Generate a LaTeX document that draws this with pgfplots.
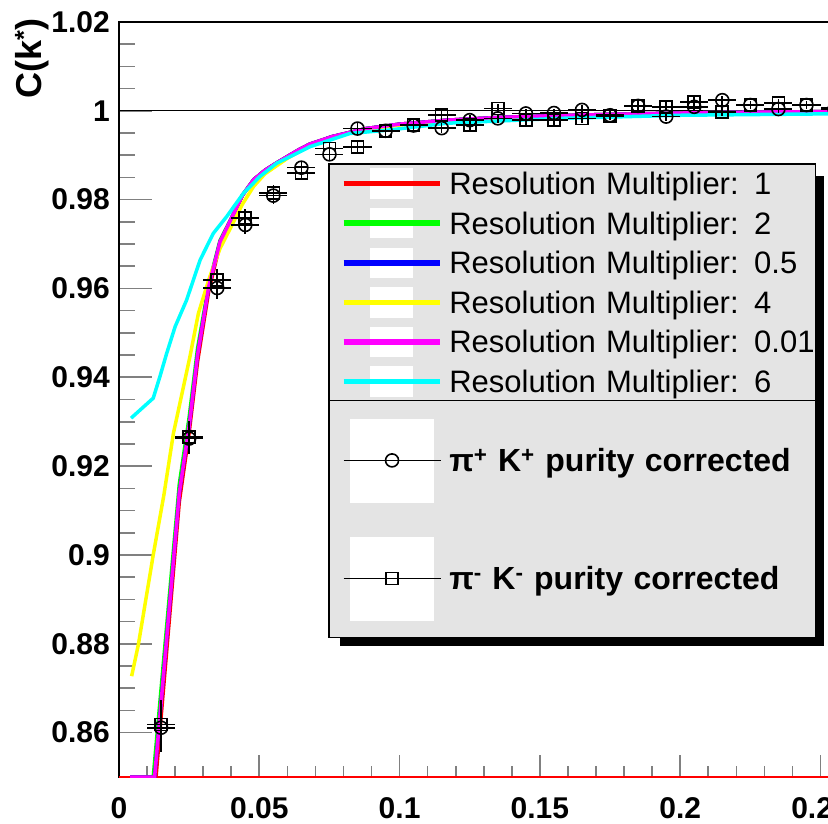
\documentclass[border=0pt]{standalone}
\usepackage{fontspec}
\setmainfont{Liberation Sans}
\usepackage{pgfplots}
\pgfplotsset{compat=1.18}
\usepackage{pgfplotstable}

\definecolor{rootred}{RGB}{255,0,0}
\definecolor{rootgreen}{RGB}{0,255,0}
\definecolor{rootblue}{RGB}{0,0,255}
\definecolor{rootyellow}{RGB}{255,255,0}
\definecolor{rootmagenta}{RGB}{255,0,255}
\definecolor{rootcyan}{RGB}{0,255,255}
\definecolor{legfill}{RGB}{228,228,228}

\newcommand\tickfont{\fontsize{30bp}{30bp}\selectfont\bfseries}
\newcommand\ylabfont{\fontsize{36bp}{36bp}\selectfont\bfseries}
\newcommand\legfont{\fontsize{31bp}{31bp}\selectfont}
\newcommand\legbfont{\fontsize{32bp}{32bp}\selectfont\bfseries}

% pi+ K+ (circles)
\pgfplotstableread{
x      y       ex     ey
0.015  0.8611  0.005  0.0055
0.025  0.9262  0.005  0.0035
0.035  0.9601  0.005  0.0025
0.045  0.9743  0.005  0.0020
0.055  0.9809  0.005  0.0018
0.065  0.9872  0.005  0.0015
0.075  0.9902  0.005  0.0013
0.085  0.9960  0.005  0.0012
0.095  0.9955  0.005  0.0012
0.105  0.9967  0.005  0.0011
0.115  0.9961  0.005  0.0011
0.125  0.9979  0.005  0.0011
0.135  0.9983  0.005  0.0010
0.145  0.9994  0.005  0.0010
0.155  0.9995  0.005  0.0010
0.165  1.0002  0.005  0.0010
0.175  0.9990  0.005  0.0010
0.185  1.0011  0.005  0.0010
0.195  0.9987  0.005  0.0010
0.205  1.0009  0.005  0.0010
0.215  1.0024  0.005  0.0010
0.225  1.0013  0.005  0.0010
0.235  1.0004  0.005  0.0010
0.245  1.0013  0.005  0.0010
0.255  1.0004  0.005  0.0010
}\dataplus

% pi- K- (squares)
\pgfplotstableread{
x      y       ex     ey
0.015  0.8618  0.005  0.0055
0.025  0.9266  0.005  0.0035
0.035  0.9619  0.005  0.0025
0.045  0.9758  0.005  0.0020
0.055  0.9815  0.005  0.0018
0.065  0.9860  0.005  0.0015
0.075  0.9915  0.005  0.0013
0.085  0.9918  0.005  0.0012
0.095  0.9954  0.005  0.0012
0.105  0.9968  0.005  0.0011
0.115  0.9990  0.005  0.0011
0.125  0.9968  0.005  0.0011
0.135  1.0005  0.005  0.0010
0.145  0.9979  0.005  0.0010
0.155  0.9979  0.005  0.0010
0.165  0.9983  0.005  0.0010
0.175  0.9989  0.005  0.0010
0.185  1.0011  0.005  0.0010
0.195  1.0009  0.005  0.0010
0.205  1.0020  0.005  0.0010
0.215  0.9998  0.005  0.0010
0.225  1.0013  0.005  0.0010
0.235  1.0017  0.005  0.0010
0.245  1.0013  0.005  0.0010
0.255  1.0006  0.005  0.0010
}\dataminus

\pgfplotsset{
  reslegend/.style={legend image code/.code={
      \fill[white] (28bp,-13.5bp) rectangle (68bp,13.5bp);
      \draw[line width=5.5bp] (0bp,0bp) -- (96bp,0bp);}},
  datalegend/.style={legend image code/.code={
      \fill[white] (7bp,-42bp) rectangle (90bp,41bp);
      \draw[black,line width=1.3bp] (0bp,0bp) -- (97bp,0bp);
      \path plot[only marks] coordinates {(48.5bp,0bp)};}},
}

\begin{document}
\begin{tikzpicture}
\begin{axis}[
  scale only axis,
  width=841.8bp, height=755bp,
  at={(0,0)}, anchor=south west,
  xmin=0, xmax=0.3, ymin=0.85, ymax=1.02,
  axis line style={line width=1.6bp},
  tick pos=left, tick align=inside,
  xtick={0,0.05,0.1,0.15,0.2,0.25,0.3},
  xticklabels={0,0.05,0.1,0.15,0.2,0.25,0.3},
  ytick={0.86,0.88,0.9,0.92,0.94,0.96,0.98,1,1.02},
  yticklabels={0.86,0.88,0.9,0.92,0.94,0.96,0.98,1,1.02},
  minor x tick num=4, minor y tick num=3,
  xtick style={line width=1.6bp, /pgfplots/major tick length=22bp},
  minor x tick style={line width=1.6bp, /pgfplots/minor tick length=11bp},
  ytick style={line width=1.6bp, /pgfplots/major tick length=33bp},
  minor y tick style={line width=1.6bp, /pgfplots/minor tick length=16bp},
  xticklabel style={font=\tickfont, inner sep=0pt, anchor=north, yshift=-20bp},
  yticklabel style={font=\tickfont, inner sep=0pt, anchor=east, xshift=-9bp},
  ylabel={C(k\textsuperscript{*})},
  every axis y label/.style={at={(rel axis cs:0,1)}, xshift=-87bp, yshift=4bp,
      rotate=90, anchor=east, inner sep=0pt, font=\ylabfont},
  legend cell align=left,
  legend style={name=leg, at={(0.24828,0.81325)}, anchor=north west,
      fill=legfill, draw=black, line width=1.6bp,
      inner xsep=12bp, inner ysep=0pt,
      /tikz/column sep=7bp, /tikz/row sep=0pt,
      nodes={inner sep=0pt, text height=30.8bp, text depth=8.8bp,
             text width=354bp, font=\legfont}},
]
% reference line at 1 and red along the bottom
\addplot[black, line width=1.2bp, forget plot] coordinates {(0,1) (0.3,1)};
\addplot[rootred, line width=3bp, forget plot] coordinates {(0,0.85) (0.3,0.85)};

\addplot[rootred, line width=3.5bp, reslegend] coordinates {
(0.004,0.85) (0.0132,0.85) (0.0215,0.912) (0.025,0.9275) (0.028,0.9435) (0.032,0.9595)
(0.036,0.970) (0.040,0.9755) (0.044,0.981) (0.048,0.9845) (0.052,0.9866) (0.056,0.9882)
(0.060,0.9897) (0.064,0.9912) (0.068,0.9925) (0.076,0.9942) (0.088,0.996) (0.100,0.997)
(0.117,0.9979) (0.135,0.9985) (0.155,0.9989) (0.175,0.9992) (0.20,0.9995) (0.225,0.9997)
(0.25,0.9998) (0.26,0.9998)};
\addlegendentry{\mbox{Resolution Multiplier: 1}}

\addplot[rootgreen, line width=3.5bp, reslegend] coordinates {
(0.004,0.85) (0.0122,0.85) (0.0215,0.916) (0.025,0.931) (0.028,0.9465) (0.032,0.961)
(0.036,0.9708) (0.040,0.9758) (0.044,0.981) (0.048,0.9845) (0.052,0.9866) (0.056,0.9882)
(0.060,0.9897) (0.064,0.9912) (0.068,0.9925) (0.076,0.9942) (0.088,0.996) (0.100,0.997)
(0.117,0.9979) (0.135,0.9985) (0.155,0.9989) (0.175,0.9992) (0.20,0.9995) (0.225,0.9997)
(0.25,0.9998) (0.26,0.9998)};
\addlegendentry{\mbox{Resolution Multiplier: 2}}

\addplot[rootblue, line width=3.5bp, reslegend] coordinates {
(0.004,0.85) (0.0127,0.85) (0.0215,0.914) (0.025,0.929) (0.028,0.945) (0.032,0.9605)
(0.036,0.9705) (0.040,0.9757) (0.044,0.981) (0.048,0.9845) (0.052,0.9866) (0.056,0.9882)
(0.060,0.9897) (0.064,0.9912) (0.068,0.9925) (0.076,0.9942) (0.088,0.996) (0.100,0.997)
(0.117,0.9979) (0.135,0.9985) (0.155,0.9989) (0.175,0.9992) (0.20,0.9995) (0.225,0.9997)
(0.25,0.9998) (0.26,0.9998)};
\addlegendentry{\mbox{Resolution Multiplier: 0.5}}

\addplot[rootyellow, line width=3.5bp, reslegend] coordinates {
(0.0045,0.8727) (0.0069,0.8798) (0.0122,0.900) (0.0160,0.9135) (0.0194,0.9274)
(0.0253,0.9447) (0.0283,0.9544) (0.032,0.962) (0.036,0.969) (0.0406,0.9747)
(0.044,0.979) (0.048,0.983) (0.052,0.9858) (0.060,0.9893) (0.068,0.9922) (0.076,0.994)
(0.088,0.9958) (0.100,0.9968) (0.117,0.9977) (0.135,0.9983) (0.155,0.9988) (0.175,0.9991)
(0.20,0.9994) (0.25,0.9997) (0.26,0.9997)};
\addlegendentry{\mbox{Resolution Multiplier: 4}}

\addplot[rootmagenta, line width=3.5bp, reslegend] coordinates {
(0.004,0.85) (0.0127,0.85) (0.0215,0.914) (0.025,0.929) (0.028,0.945) (0.032,0.9605)
(0.036,0.9705) (0.040,0.9757) (0.044,0.981) (0.048,0.9845) (0.052,0.9866) (0.056,0.9882)
(0.060,0.9897) (0.064,0.9912) (0.068,0.9925) (0.076,0.9942) (0.088,0.996) (0.100,0.997)
(0.117,0.9979) (0.135,0.9985) (0.155,0.9989) (0.175,0.9992) (0.20,0.9995) (0.225,0.9997)
(0.25,0.9998) (0.26,0.9998)};
\addlegendentry{\mbox{Resolution Multiplier: 0.01}}

\addplot[rootcyan, line width=3.5bp, reslegend] coordinates {
(0.0043,0.9308) (0.0122,0.9353) (0.0146,0.9402) (0.017,0.9454) (0.020,0.9514)
(0.0241,0.9574) (0.0289,0.9664) (0.0336,0.9724) (0.0384,0.9762) (0.0443,0.9814)
(0.0502,0.9852) (0.0562,0.9882) (0.0633,0.9904) (0.068,0.9919) (0.0823,0.9949)
(0.0966,0.9957) (0.1168,0.9972) (0.157,0.9983) (0.20,0.999) (0.25,0.9993) (0.26,0.9993)};
\addlegendentry{\mbox{Resolution Multiplier: 6}}

\addplot[black, only marks, mark=o, mark size=6.5bp, line width=1.6bp,
  mark options={line width=1.6bp}, datalegend,
  error bars/.cd, x dir=both, x explicit, y dir=both, y explicit,
  error mark=none, error bar style={line width=1.6bp}]
  table[x=x, y=y, x error=ex, y error=ey] {\dataplus};
\addlegendentry[text height=70.5bp, text depth=47.5bp, font=\legbfont]{\mbox{π\textsuperscript{+} K\textsuperscript{+} purity corrected}}

\addplot[black, only marks, mark=square, mark size=6bp, line width=1.6bp,
  mark options={line width=1.6bp}, datalegend,
  error bars/.cd, x dir=both, x explicit, y dir=both, y explicit,
  error mark=none, error bar style={line width=1.6bp}]
  table[x=x, y=y, x error=ex, y error=ey] {\dataminus};
\addlegendentry[text height=70.5bp, text depth=47.5bp, font=\legbfont]{\mbox{π\textsuperscript{-} K\textsuperscript{-} purity corrected}}
\end{axis}
% legend divider and shadow
\draw[line width=1.6bp] (leg.west) -- (leg.east);
\fill[black] ([yshift=-13bp]leg.north east) rectangle ([xshift=8bp,yshift=-8bp]leg.south east);
\fill[black] ([xshift=12bp]leg.south west) rectangle ([xshift=8bp,yshift=-8bp]leg.south east);
\pgfresetboundingbox
\useasboundingbox (-119bp,-47bp) rectangle (709bp,777bp);
\end{tikzpicture}
\end{document}
